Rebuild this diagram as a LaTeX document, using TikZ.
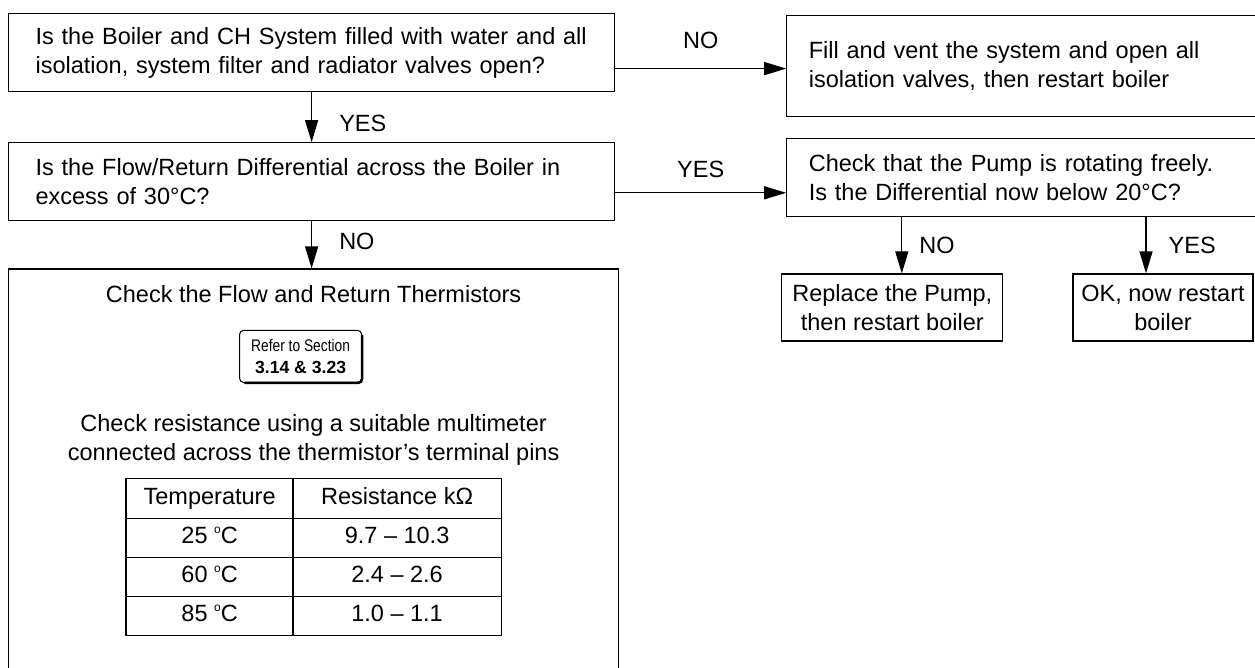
\documentclass[tikz,border=0pt]{standalone}
\usepackage{fontspec}
\setmainfont{Liberation Sans}
\usetikzlibrary{arrows.meta,positioning,matrix,calc}
\newcommand{\degsup}{{\fontsize{12}{12}\selectfont\raisebox{10pt}{o}}}

\begin{document}
\begin{tikzpicture}[
			x=1pt,y=-1pt,
			font=\fontsize{23.5}{29}\selectfont,
			box/.style={
				draw,
				line width=1.2pt,
				minimum height=78pt,
				inner xsep=27pt,
				inner ysep=0pt,
				text width=552pt,
				align=left
			},
			sidebox/.style={box,inner xsep=22pt,text width=431pt},
			endbox/.style={draw,line width=1.2pt,minimum height=67pt,inner sep=0pt,align=center},
			refer/.style={
				draw,
				line width=1pt,
				rounded corners=4pt,
				minimum width=122pt,
				minimum height=52pt,
				inner sep=0pt,
				align=center,
				font=\fontsize{17}{22}\selectfont
			},
			grid/.style={line width=1.2pt},
			arr/.style={-{Triangle[length=22pt,width=13pt]},line width=1.3pt},
			lbl/.style={midway,inner sep=0pt}
			]
			\useasboundingbox (0,0) rectangle (1255,668);
			% left column
			\node[box,anchor=north west](ask) at (8,13){Is the Boiler and CH System filled with water and all\\isolation, system filter and radiator valves open?};
			\node[box,below=50pt of ask](diff){Is the Flow/Return Differential across the Boiler in\\excess of 30°C?};
			\node[box,below=47pt of diff.south west,anchor=north west,text width=556pt,minimum height=420pt](therm){};
			% right column
			\node[sidebox,right=171pt of ask.north east,anchor=north west,minimum height=101pt,yshift=-2pt](fill){Fill and vent the system and open all\\isolation valves, then restart boiler};
			\node[sidebox,below=21pt of fill](pump){Check that the Pump is rotating freely.\\Is the Differential now below 20°C?};
			\node[endbox,minimum width=221pt,below=56pt of pump.south west,anchor=north west,xshift=-5pt](repl){Replace the Pump,\\then restart boiler};
			\node[endbox,minimum width=180pt,right=69pt of repl.north east,anchor=north west](okay){OK, now restart\\boiler};
			% inside the thermistor box
			\node(thermTitle) at ($(therm.north)+(0,26)$){Check the Flow and Return Thermistors};
			\node[refer](sect) at ($(therm.north)+(-13,88)$){{\fontsize{16.8}{22}\selectfont\scalebox{0.82}[1]{Refer to Section}}\\{\fontsize{17.6}{22}\selectfont\bfseries 3.14 \& 3.23}};
			\draw[line width=2.6pt,rounded corners=4pt,line cap=round]([yshift=-6pt]sect.north east)--(sect.south east)--([xshift=6pt]sect.south west);
			\node[align=center](howto) at ($(therm.north)+(0,172)$){Check resistance using a suitable multimeter\\connected across the thermistor's terminal pins};
			\matrix(tab)[
				matrix of nodes,
				anchor=north,
				row sep=0pt,
				column sep=0pt,
				nodes={text height=17pt,text depth=5pt,minimum height=39pt,inner sep=0pt,anchor=center},
				column 1/.style={nodes={minimum width=167pt}},
				column 2/.style={nodes={minimum width=208pt}}
				] at ($(therm.north)+(0,207)$){
				Temperature & Resistance kΩ\\
				25 \degsup C & 9.7 -- 10.3\\
				60 \degsup C & 2.4 -- 2.6\\
				85 \degsup C & 1.0 -- 1.1\\
			};
			\draw[grid](tab-1-1.north west) rectangle (tab-4-2.south east);
			\draw[grid](tab-1-2.north west)--(tab-4-2.south west);
			\foreach \r in {1,2,3}
				\draw[grid](tab-\r-1.south west)--(tab-\r-2.south east);
			% connectors
			\draw[arr](ask)--(diff) node[lbl,right=27pt,yshift=-6pt]{YES};
			\draw[arr](diff.south)--(diff.south |- therm.north) node[lbl,right=27pt,yshift=3pt]{NO};
			\coordinate(noStart) at ([yshift=-16pt]ask.east);
			\draw[arr](noStart)--(noStart -| fill.west) node[lbl,above=19.5pt]{NO};
			\coordinate(yesStart) at ([yshift=-11pt]diff.east);
			\draw[arr](yesStart)--(yesStart -| pump.west) node[lbl,above=14.5pt]{YES};
			\coordinate(noTip) at ([xshift=9.5pt]repl.north);
			\draw[arr](pump.south -| noTip)--(noTip) node[lbl,right=17pt]{NO};
			\coordinate(yesTip) at ([xshift=-17pt]okay.north);
			\draw[arr](pump.south -| yesTip)--(yesTip) node[lbl,right=22pt]{YES};
		\end{tikzpicture}
\end{document}
